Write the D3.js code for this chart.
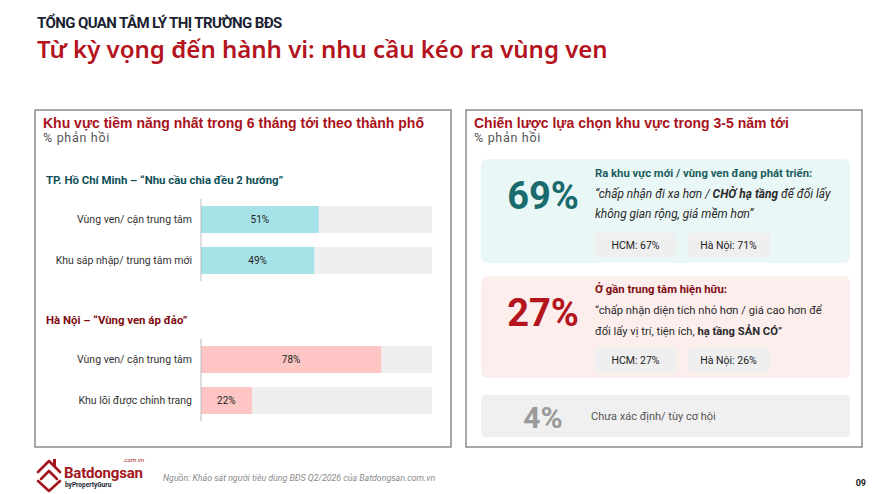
<!DOCTYPE html>
<html>
<head>
<meta charset="utf-8">
<script src="https://cdn.jsdelivr.net/npm/d3@7"></script>
<style>
  body { margin: 0; background: #fff; }
  svg { display: block; font-family: Roboto, "Noto Sans", sans-serif; }
</style>
</head>
<body>
<div id="chart"></div>
<script>
// data
const hcmCategories = ["Vùng ven/ cận trung tâm", "Khu sáp nhập/ trung tâm mới"];
const hcmValues = [51, 49];
const hnCategories = ["Vùng ven/ cận trung tâm", "Khu lõi được chỉnh trang"];
const hnValues = [78, 22];

const strategyShares = [69, 27, 4];
const strategyHcm = [67, 27];
const strategyHn = [71, 26];

const width = 880, height = 494;
const svg = d3.select("#chart").append("svg")
    .attr("width", width)
    .attr("height", height)
    .style("background", "white");

// header
svg.append("text").attr("x", 37).attr("y", 28)
    .attr("font-size", 15).attr("font-weight", 700).attr("fill", "#1b1f33")
    .attr("letter-spacing", -0.6)
    .text("TỔNG QUAN TÂM LÝ THỊ TRƯỜNG BĐS");
svg.append("text").attr("x", 37).attr("y", 58)
    .attr("font-family", "'Noto Sans', sans-serif")
    .attr("font-size", 24).attr("font-weight", 600).attr("fill", "#b3141d")
    .text("Từ kỳ vọng đến hành vi: nhu cầu kéo ra vùng ven");

// panels
function panel(x, w, title) {
    svg.append("rect").attr("x", x).attr("y", 110).attr("width", w).attr("height", 337)
        .attr("fill", "white").attr("stroke", "#7a7a7a").attr("stroke-width", 1.3);
    svg.append("text").attr("x", x + 8).attr("y", 128)
        .attr("font-family", "'Liberation Sans', Arial, sans-serif")
        .attr("font-size", 14).attr("font-weight", 700).attr("fill", "#a8131b")
        .text(title);
    svg.append("text").attr("x", x + 8).attr("y", 142)
        .attr("font-size", 12.5).attr("fill", "#555").attr("letter-spacing", 0.7)
        .text("% phản hồi");
}
panel(35, 416, "Khu vực tiềm năng nhất trong 6 tháng tới theo thành phố");
panel(466, 396, "Chiến lược lựa chọn khu vực trong 3-5 năm tới");

// left: horizontal bars per city
const x = d3.scaleLinear().domain([0, 100]).range([201, 432]);

function barGroup(title, titleColor, titleY, cats, vals, range, fill) {
    svg.append("text").attr("x", 46).attr("y", titleY)
        .attr("font-size", 11.4).attr("font-weight", 700).attr("fill", titleColor)
        .text(title);
    const y = d3.scaleBand().domain(cats).range(range).paddingInner(0.34).paddingOuter(0.17);
    const g = svg.append("g");
    const rows = g.selectAll("g.row").data(cats.map((c, i) => ({c, v: vals[i]})))
        .enter().append("g").attr("class", "row");
    rows.append("rect").attr("x", x(0)).attr("y", d => y(d.c))
        .attr("width", x(100) - x(0)).attr("height", y.bandwidth()).attr("fill", "#efefef");
    rows.append("rect").attr("x", x(0)).attr("y", d => y(d.c))
        .attr("width", d => x(d.v) - x(0)).attr("height", y.bandwidth()).attr("fill", fill);
    rows.append("text").attr("x", d => (x(0) + x(d.v)) / 2).attr("y", d => y(d.c) + y.bandwidth() / 2)
        .attr("dy", "0.35em").attr("text-anchor", "middle")
        .attr("font-size", 10).attr("fill", "#222").text(d => d.v + "%");
    rows.append("text").attr("x", x(0) - 9).attr("y", d => y(d.c) + y.bandwidth() / 2)
        .attr("dy", "0.35em").attr("text-anchor", "end")
        .attr("font-size", 10.5).attr("fill", "#333").text(d => d.c);
    g.append("line").attr("x1", x(0)).attr("x2", x(0))
        .attr("y1", range[0]).attr("y2", range[1]).attr("stroke", "#bbb").attr("stroke-width", 1);
}
barGroup("TP. Hồ Chí Minh – “Nhu cầu chia đều 2 hướng”", "#0e4f56", 184,
    hcmCategories, hcmValues, [199, 281], "#a6e3e8");
barGroup("Hà Nội – “Vùng ven áp đảo”", "#7d0b0f", 324,
    hnCategories, hnValues, [339, 421], "#fdc6c5");

// right: strategy cards
function pill(px, py, w, label) {
    svg.append("rect").attr("x", px).attr("y", py).attr("width", w).attr("height", 24)
        .attr("rx", 4).attr("fill", "#efefef");
    svg.append("text").attr("x", px + w / 2).attr("y", py + 12).attr("dy", "0.35em")
        .attr("text-anchor", "middle").attr("font-size", 10.5).attr("fill", "#222").text(label);
}

function richLine(tx, ty, parts, italic) {
    const t = svg.append("text").attr("x", tx).attr("y", ty)
        .attr("font-size", italic ? 11.9 : 11.2).attr("fill", "#2a2a2a")
        .attr("font-style", italic ? "italic" : "normal");
    parts.forEach(p => {
        t.append("tspan").attr("font-weight", p.b ? 700 : 400).text(p.t);
    });
}

// card 1
svg.append("rect").attr("x", 481).attr("y", 159).attr("width", 369).attr("height", 104)
    .attr("rx", 6).attr("fill", "#eaf7f7");
svg.append("text").attr("x", 543).attr("y", 209).attr("text-anchor", "middle")
    .attr("font-size", 38).attr("font-weight", 700).attr("fill", "#1a6b6d")
    .text(strategyShares[0] + "%");
svg.append("text").attr("x", 595).attr("y", 177)
    .attr("font-size", 11.3).attr("font-weight", 700).attr("fill", "#1c5d60")
    .text("Ra khu vực mới / vùng ven đang phát triển:");
richLine(595, 198, [{t: "“chấp nhận đi xa hơn / "}, {t: "CHỜ hạ tầng", b: true}, {t: " để đổi lấy"}], true);
richLine(595, 218, [{t: "không gian rộng, giá mềm hơn”"}], true);
pill(595, 233, 81, "HCM: " + strategyHcm[0] + "%");
pill(687, 233, 83, "Hà Nội: " + strategyHn[0] + "%");

// card 2
svg.append("rect").attr("x", 481).attr("y", 276).attr("width", 369).attr("height", 102)
    .attr("rx", 6).attr("fill", "#fdeeee");
svg.append("text").attr("x", 543).attr("y", 326).attr("text-anchor", "middle")
    .attr("font-size", 38).attr("font-weight", 700).attr("fill", "#b2151c")
    .text(strategyShares[1] + "%");
svg.append("text").attr("x", 595).attr("y", 293)
    .attr("font-size", 11.3).attr("font-weight", 700).attr("fill", "#7d0b0f")
    .text("Ở gần trung tâm hiện hữu:");
richLine(595, 314, [{t: "“chấp nhận diện tích nhỏ hơn / giá cao hơn để"}], false);
richLine(595, 335, [{t: "đổi lấy vị trí, tiện ích, "}, {t: "hạ tầng SẢN CÓ", b: true}, {t: "”"}], false);
pill(595, 348, 81, "HCM: " + strategyHcm[1] + "%");
pill(687, 348, 83, "Hà Nội: " + strategyHn[1] + "%");

// card 3
svg.append("rect").attr("x", 481).attr("y", 395).attr("width", 369).attr("height", 42)
    .attr("rx", 4).attr("fill", "#f0f0f0");
svg.append("text").attr("x", 543).attr("y", 428).attr("text-anchor", "middle")
    .attr("font-size", 30).attr("font-weight", 700).attr("fill", "#9a9a9a")
    .text(strategyShares[2] + "%");
svg.append("text").attr("x", 591).attr("y", 420)
    .attr("font-size", 11).attr("fill", "#555")
    .text("Chưa xác định/ tùy cơ hội");

// footer: logo
const logo = svg.append("g").attr("transform", "translate(36,458)");
logo.append("path")
    .attr("d", "M2,14 L13,3 L24,14 M5,21 L13,13 L21,21 M2,23 L13,33 L24,23")
    .attr("fill", "none").attr("stroke", "#a3161c").attr("stroke-width", 2.6)
    .attr("stroke-linejoin", "round").attr("stroke-linecap", "round");
logo.append("rect").attr("x", 17).attr("y", 1).attr("width", 3).attr("height", 7).attr("fill", "#a3161c");
logo.append("text").attr("x", 28).attr("y", 20)
    .attr("font-size", 15).attr("font-weight", 700).attr("fill", "#a3161c")
    .attr("letter-spacing", -0.2).text("Batdongsan");
logo.append("text").attr("x", 108).attr("y", 4).attr("text-anchor", "end")
    .attr("font-size", 6).attr("fill", "#a3161c").text(".com.vn");
logo.append("text").attr("x", 29).attr("y", 29)
    .attr("font-size", 6.5).attr("font-weight", 700).attr("fill", "#1b1f33")
    .text("byPropertyGuru");

svg.append("text").attr("x", 163).attr("y", 481)
    .attr("font-size", 8.8).attr("font-style", "italic").attr("fill", "#8a8a8a")
    .text("Nguồn: Khảo sát người tiêu dùng BĐS Q2/2026 của Batdongsan.com.vn");
svg.append("text").attr("x", 866).attr("y", 486).attr("text-anchor", "end")
    .attr("font-size", 9).attr("font-weight", 700).attr("fill", "#222")
    .text("09");
</script>
</body>
</html>
